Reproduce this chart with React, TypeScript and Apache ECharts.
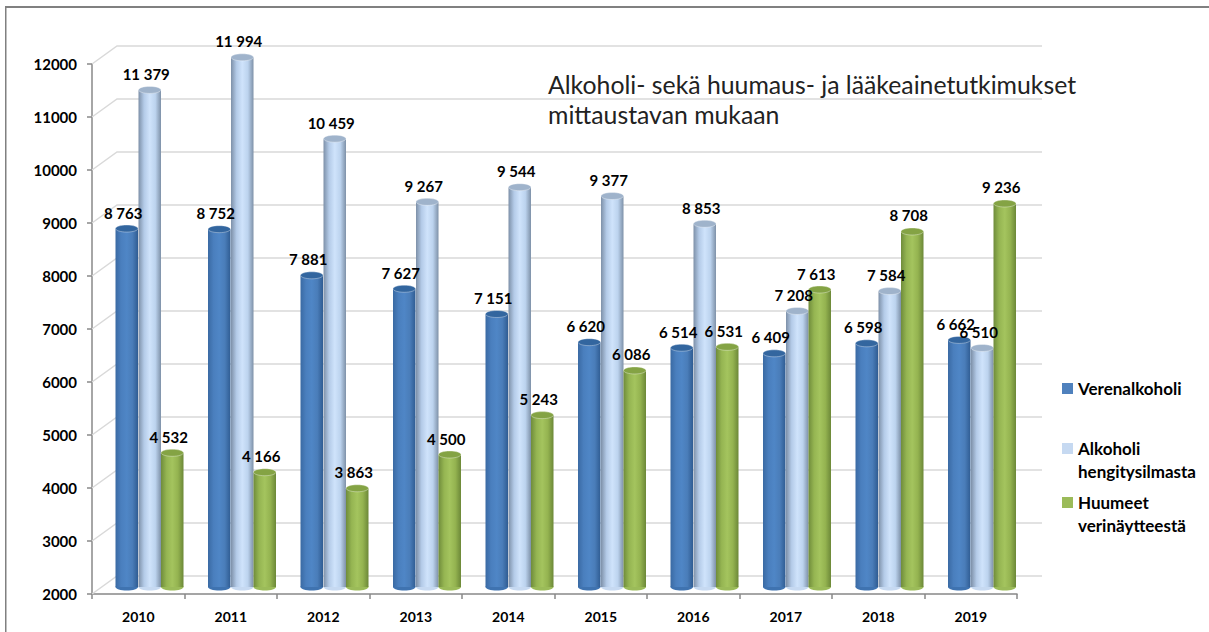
import React, { useEffect, useRef } from "react";
import * as echarts from "echarts";

const years = ["2010", "2011", "2012", "2013", "2014", "2015", "2016", "2017", "2018", "2019"];
const blood = [8763, 8752, 7881, 7627, 7151, 6620, 6514, 6409, 6598, 6662];
const breath = [11379, 11994, 10459, 9267, 9544, 9377, 8853, 7208, 7584, 6510];
const drugs = [4532, 4166, 3863, 4500, 5243, 6086, 6531, 7613, 8708, 9236];
const ticks = [2000, 3000, 4000, 5000, 6000, 7000, 8000, 9000, 10000, 11000, 12000];
const seriesNames = ["Verenalkoholi", "Alkoholi\nhengitysilmasta", "Huumeet\nverinäytteestä"];
const titleText = "Alkoholi- sekä huumaus- ja lääkeainetutkimukset\nmittaustavan mukaan";

const FONT = "Lato, 'Noto Sans', sans-serif";
const BAR_W = 22.5;
const LIFT = 7; // the bars stand a little behind the front edge of the floor
const DEPTH_X = 25;
const DEPTH_Y = 18;

const fmt = (v: number) => String(v).replace(/\B(?=(\d{3})+$)/g, " ");

function gradient(stops: string[]) {
  return new echarts.graphic.LinearGradient(
    0, 0, 1, 0,
    stops.map((color, i) => ({ offset: i / (stops.length - 1), color }))
  );
}

const looks = [
  { legend: "#4f81bd", dx: -11.5, body: ["#3a6aa3", "#4a7fbe", "#4f86c6", "#4a7db9", "#2f5c92"], top: "#33669f", bottom: "#3f73b0" },
  { legend: "#c6d9f1", dx: 11.5, body: ["#7d90a8", "#b4cbe8", "#cfe3fb", "#bcd3ee", "#7e91a8"], top: "#9fb3cb", bottom: "#c6d9f1" },
  { legend: "#9bbb59", dx: 34, body: ["#6f8c3b", "#95b552", "#a4c45e", "#94b350", "#6c8838"], top: "#84a344", bottom: "#9bbb59" },
];

function barSeries(i: number, values: number[]) {
  const look = looks[i];
  return {
    type: "custom",
    name: seriesNames[i],
    z: 3,
    itemStyle: { color: look.legend },
    encode: { x: 0, y: 1 },
    data: values.map((v, k) => [k, v]),
    renderItem: (_: any, api: any) => {
      const p = api.coord([api.value(0), api.value(1)]);
      const base = api.coord([api.value(0), 2000]);
      const cx = p[0] + look.dx;
      const top = p[1] - LIFT;
      const bot = base[1] - LIFT;
      const rx = BAR_W / 2;
      return {
        type: "group",
        children: [
          { type: "ellipse", shape: { cx, cy: bot, rx, ry: 3.5 }, style: { fill: look.bottom } },
          {
            type: "rect",
            shape: { x: cx - rx, y: top, width: BAR_W, height: bot - top },
            style: { fill: gradient(look.body) },
          },
          {
            type: "ellipse",
            shape: { cx, cy: top, rx, ry: 3.5 },
            style: { fill: look.top, stroke: "rgba(255,255,255,0.45)", lineWidth: 0.8 },
          },
        ],
      };
    },
  };
}

function labelSeries(i: number, values: number[]) {
  const look = looks[i];
  return {
    type: "custom",
    name: "labels" + i,
    z: 6,
    silent: true,
    encode: { x: 0, y: 1 },
    data: values.map((v, k) => [k, v]),
    renderItem: (_: any, api: any) => {
      const p = api.coord([api.value(0), api.value(1)]);
      return {
        type: "text",
        style: {
          x: p[0] + look.dx - 3.5,
          y: p[1] - LIFT - 16,
          text: fmt(api.value(1)),
          font: `bold 15px ${FONT}`,
          fill: "#000",
          align: "center",
          verticalAlign: "middle",
        },
      };
    },
  };
}

const wallSeries = {
  type: "custom",
  name: "wall",
  z: 1,
  silent: true,
  encode: { x: 0, y: 1 },
  data: ticks.map((t) => [0, t]),
  renderItem: (params: any, api: any) => {
    const y = api.coord([0, api.value(1)])[1];
    const left = params.coordSys.x;
    const right = left + params.coordSys.width;
    return {
      type: "polyline",
      shape: {
        points: [
          [left, y],
          [left + DEPTH_X, y - DEPTH_Y],
          [right + DEPTH_X, y - DEPTH_Y],
        ],
      },
      style: { fill: "none", stroke: "#d9d9d9", lineWidth: 1.5 },
    };
  },
};

export default function App() {
  const ref = useRef<HTMLDivElement>(null);
  useEffect(() => {
    document.body.style.margin = "0";
    const chart = echarts.init(ref.current!, undefined, { renderer: "svg" });
    const legendBase = {
      left: 1057,
      orient: "vertical",
      icon: "rect",
      itemWidth: 11,
      itemHeight: 11,
      itemGap: 0,
      selectedMode: false,
    };
    const legendText = { fontFamily: FONT, fontWeight: "bold", fontSize: 17, color: "#000", lineHeight: 23 };
    // A square in the top of a taller, otherwise empty icon box: it sits beside the first of two lines.
    const twoLine = {
      icon: "path://M0,0H11V11H0Z M0,34L11,34Z",
      itemWidth: 11,
      itemHeight: 34,
    };
    chart.setOption({
      animation: false,
      backgroundColor: "#fff",
      title: {
        text: titleText,
        left: 543,
        top: 64,
        textStyle: { fontFamily: FONT, fontWeight: "normal", fontSize: 24.8, color: "#222", lineHeight: 30 },
      },
      grid: { left: 92, top: 64, width: 925, height: 530, containLabel: false },
      xAxis: {
        type: "category",
        data: years,
        boundaryGap: true,
        axisLine: { lineStyle: { color: "#888", width: 1.5 } },
        axisTick: { show: true, length: 5, alignWithLabel: false, lineStyle: { color: "#888", width: 1.5 } },
        axisLabel: { fontFamily: FONT, fontWeight: "bold", fontSize: 14, color: "#000", margin: 15 },
      },
      yAxis: {
        type: "value",
        min: 2000,
        max: 12000,
        interval: 1000,
        axisLine: { show: true, lineStyle: { color: "#888", width: 1.5 } },
        axisTick: { show: true, length: 5, lineStyle: { color: "#888", width: 1.5 } },
        splitLine: { show: false },
        axisLabel: {
          fontFamily: FONT,
          fontWeight: "bold",
          fontSize: 15,
          color: "#000",
          margin: 15,
          formatter: (v: number) => String(v),
        },
      },
      legend: [
        { ...legendBase, top: 372, data: [seriesNames[0]], textStyle: legendText },
        { ...legendBase, ...twoLine, top: 432, data: [seriesNames[1]], textStyle: legendText },
        { ...legendBase, ...twoLine, top: 486, data: [seriesNames[2]], textStyle: legendText },
      ],
      graphic: [
        { type: "rect", shape: { x: 5, y: 6, width: 1204, height: 2 }, style: { fill: "#808080" } },
        { type: "rect", shape: { x: 5, y: 6, width: 1.5, height: 626 }, style: { fill: "#808080" } },
      ],
      series: [
        wallSeries,
        barSeries(0, blood),
        barSeries(1, breath),
        barSeries(2, drugs),
        labelSeries(0, blood),
        labelSeries(1, breath),
        labelSeries(2, drugs),
      ],
    });
    return () => chart.dispose();
  }, []);
  return <div ref={ref} style={{ width: 1209, height: 632 }} />;
}
